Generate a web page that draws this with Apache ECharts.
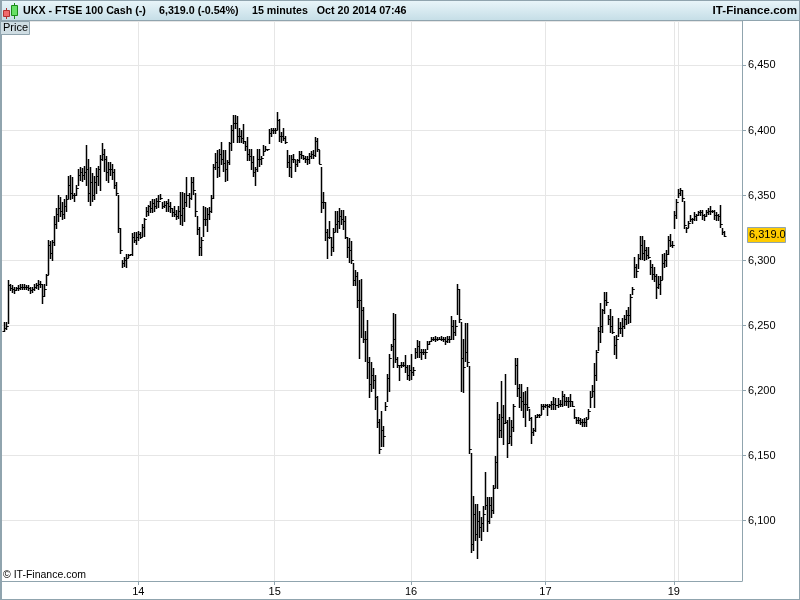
<!DOCTYPE html>
<html><head><meta charset="utf-8">
<style>html,body{margin:0;padding:0;background:#fff}#c{width:800px;height:600px}</style>
<script src="https://cdn.jsdelivr.net/npm/echarts@6/dist/echarts.min.js"></script>
</head><body><div id="c"></div>
<script>
const highs=[
6253,6253,6285,6282,6281,6280,6280,6281,6282,6282,
6282,6281,6281,6280,6280,6282,6283,6285,6284,6282,
6282,6290,6316,6315,6316,6334,6340,6350,6349,6345,
6347,6350,6365,6366,6364,6352,6358,6370,6372,6371,
6373,6389,6378,6372,6367,6365,6371,6373,6381,6390,
6386,6380,6376,6376,6374,6370,6360,6350,6325,6300,
6303,6305,6305,6305,6321,6322,6322,6323,6322,6328,
6333,6341,6343,6346,6347,6347,6348,6350,6351,6345,
6346,6346,6347,6345,6340,6342,6339,6342,6353,6353,
6352,6364,6352,6364,6364,6352,6334,6326,6318,6342,
6341,6340,6341,6350,6374,6383,6385,6386,6391,6385,
6385,6377,6391,6404,6412,6412,6411,6402,6400,6405,
6392,6395,6386,6386,6380,6372,6386,6386,6380,6389,
6388,6386,6401,6402,6402,6402,6414,6409,6399,6402,
6396,6385,6381,6381,6382,6377,6378,6384,6384,6381,
6380,6380,6383,6384,6385,6395,6394,6385,6372,6353,
6345,6324,6330,6318,6325,6338,6338,6340,6339,6339,
6334,6318,6317,6315,6298,6293,6291,6285,6286,6264,
6246,6254,6226,6222,6217,6212,6196,6178,6184,6173,
6191,6213,6228,6236,6260,6259,6226,6220,6222,6222,
6227,6220,6220,6228,6218,6233,6239,6238,6232,6232,
6232,6238,6238,6241,6241,6242,6241,6241,6242,6241,
6241,6242,6242,6257,6254,6254,6282,6278,6253,6240,
6252,6252,6219,6152,6119,6113,6113,6107,6103,6111,
6137,6118,6118,6118,6127,6150,6191,6182,6207,6189,
6213,6177,6180,6177,6190,6225,6225,6205,6205,6199,
6200,6203,6186,6180,6171,6181,6182,6182,6190,6190,
6190,6190,6190,6192,6195,6194,6194,6193,6200,6197,
6195,6195,6197,6192,6186,6180,6180,6179,6178,6179,
6180,6186,6200,6204,6221,6231,6249,6267,6263,6276,
6276,6258,6263,6257,6242,6243,6256,6253,6256,6258,
6262,6264,6274,6280,6303,6297,6305,6319,6319,6316,
6310,6310,6300,6297,6295,6290,6288,6288,6305,6306,
6308,6319,6320,6315,6338,6347,6355,6356,6354,6346,
6326,6330,6335,6333,6337,6336,6338,6339,6339,6336,
6339,6340,6342,6339,6339,6337,6336,6343,6325,6323];
const lows=[
6246,6247,6252,6277,6276,6275,6277,6277,6278,6278,
6278,6278,6277,6275,6276,6277,6279,6278,6280,6267,
6273,6281,6290,6302,6300,6312,6325,6330,6334,6332,
6333,6338,6348,6347,6348,6346,6350,6358,6362,6361,
6363,6358,6346,6343,6346,6347,6352,6358,6354,6377,
6369,6362,6360,6366,6363,6356,6350,6322,6306,6295,
6296,6295,6303,6304,6304,6314,6313,6316,6317,6319,
6319,6334,6335,6337,6337,6338,6340,6341,6347,6340,
6341,6338,6338,6337,6334,6334,6332,6333,6328,6327,
6330,6342,6341,6347,6351,6334,6320,6304,6304,6319,
6327,6323,6332,6337,6348,6370,6364,6365,6374,6369,
6361,6362,6374,6385,6391,6402,6391,6391,6391,6390,
6385,6377,6377,6370,6365,6358,6369,6373,6374,6381,
6385,6385,6390,6396,6398,6398,6401,6392,6391,6393,
6390,6372,6365,6364,6376,6369,6373,6376,6379,6378,
6376,6374,6375,6379,6379,6380,6384,6375,6337,6340,
6316,6302,6317,6304,6307,6323,6322,6325,6328,6324,
6317,6303,6299,6298,6281,6281,6264,6225,6241,6237,
6223,6210,6195,6200,6202,6186,6172,6152,6157,6157,
6185,6192,6200,6231,6218,6222,6218,6208,6218,6219,
6214,6209,6208,6209,6212,6225,6226,6226,6224,6228,
6225,6232,6236,6238,6239,6238,6239,6240,6239,6238,
6236,6237,6237,6240,6240,6243,6259,6253,6200,6199,
6223,6219,6152,6076,6077,6085,6071,6087,6085,6092,
6109,6092,6098,6103,6106,6126,6125,6164,6164,6159,
6175,6149,6160,6158,6169,6205,6196,6187,6185,6180,
6173,6185,6177,6160,6166,6169,6180,6180,6182,6186,
6187,6181,6187,6186,6186,6186,6187,6188,6188,6189,
6189,6187,6188,6188,6179,6175,6175,6174,6173,6173,
6173,6179,6187,6196,6187,6208,6231,6237,6245,6260,
6266,6251,6245,6244,6228,6225,6242,6244,6242,6248,
6251,6252,6253,6274,6287,6287,6294,6301,6301,6300,
6301,6302,6290,6286,6284,6271,6279,6274,6286,6295,
6296,6305,6311,6310,6325,6333,6349,6350,6346,6325,
6322,6326,6330,6329,6331,6331,6335,6335,6332,6331,
6334,6336,6336,6337,6332,6331,6331,6326,6320,6319];
const closes=[
6248,6250,6281,6279,6278,6277,6279,6279,6280,6280,
6280,6280,6279,6277,6278,6280,6281,6282,6282,6273,
6278,6289,6312,6306,6314,6328,6336,6340,6338,6336,
6342,6347,6358,6352,6350,6350,6356,6366,6368,6366,
6368,6370,6352,6360,6350,6360,6365,6370,6378,6382,
6378,6368,6370,6370,6368,6358,6352,6325,6308,6298,
6300,6302,6304,6305,6318,6316,6318,6320,6318,6326,
6332,6338,6342,6340,6344,6342,6346,6346,6348,6342,
6343,6344,6342,6340,6337,6336,6334,6338,6335,6340,
6345,6350,6348,6360,6354,6338,6324,6310,6316,6332,
6332,6336,6338,6348,6372,6376,6372,6382,6378,6375,
6370,6376,6390,6400,6406,6406,6396,6396,6394,6392,
6388,6382,6380,6376,6368,6370,6378,6378,6379,6384,
6386,6386,6398,6400,6400,6400,6408,6396,6396,6394,
6391,6376,6372,6378,6378,6374,6377,6382,6381,6379,
6378,6378,6380,6382,6381,6392,6386,6374,6345,6345,
6322,6318,6318,6310,6322,6328,6330,6334,6332,6330,
6318,6310,6308,6300,6285,6288,6270,6270,6262,6240,
6240,6222,6205,6212,6208,6195,6176,6155,6170,6165,
6188,6210,6225,6234,6240,6224,6220,6220,6220,6220,
6218,6212,6216,6214,6216,6230,6234,6230,6230,6230,
6230,6236,6238,6240,6240,6240,6240,6240,6240,6240,
6238,6240,6240,6250,6245,6250,6278,6255,6225,6218,
6230,6222,6155,6082,6105,6090,6100,6095,6098,6105,
6112,6100,6112,6108,6125,6145,6178,6170,6180,6175,
6176,6160,6165,6172,6188,6220,6202,6195,6192,6190,
6190,6187,6179,6168,6170,6180,6181,6181,6188,6188,
6189,6188,6189,6190,6190,6189,6190,6190,6196,6192,
6192,6192,6192,6188,6180,6177,6177,6176,6176,6176,
6178,6184,6195,6200,6212,6230,6246,6250,6262,6270,
6268,6255,6250,6245,6235,6240,6248,6248,6250,6255,
6258,6258,6272,6278,6295,6292,6302,6312,6306,6308,
6304,6303,6295,6290,6288,6280,6282,6285,6298,6300,
6305,6316,6312,6312,6335,6345,6352,6354,6348,6327,
6325,6329,6332,6332,6334,6335,6337,6337,6335,6334,
6337,6338,6338,6338,6335,6335,6334,6328,6322,6319];
const dayLabels={68:'14',136:'15',204:'16',271:'17',335:'19'};
const extraGridIndex=337;
const priceTicks=[6100,6150,6200,6250,6300,6350,6400,6450];
const lastPrice=6319;
const categories=Array.from({length:370},(_,i)=>String(i));
const rows=highs.map((h,i)=>[i+1,i?closes[i-1]:lows[0],h,lows[i],closes[i]]);

const frame='#90a4ae';
const font='"Liberation Sans",Arial,sans-serif';
const chart=echarts.init(document.getElementById('c'),null,{renderer:'canvas'});
const px=v=>Math.round(v)+0.5;
chart.setOption({
  animation:false,
  backgroundColor:'#fff',
  grid:{left:2,right:58,top:21,bottom:19,show:false},
  xAxis:{type:'category',data:categories,boundaryGap:false,
    axisLine:{show:true,lineStyle:{color:frame,width:1}},
    axisTick:{show:true,length:4,lineStyle:{color:frame},interval:i=>dayLabels[i]!==undefined},
    axisLabel:{show:true,color:'#000',fontFamily:font,fontSize:11,margin:5,hideOverlap:false,
      interval:i=>dayLabels[i]!==undefined,formatter:(v,i)=>dayLabels[i]||''},
    splitLine:{show:true,lineStyle:{color:'#e6e6e6',width:1},
      interval:i=>dayLabels[i]!==undefined||i===extraGridIndex}},
  yAxis:{type:'value',position:'right',min:6053.5,max:6484.2,splitNumber:8,
    axisLine:{show:true,onZero:false,lineStyle:{color:frame,width:1}},
    axisTick:{show:true,length:4,lineStyle:{color:frame}},
    axisLabel:{color:'#000',fontFamily:font,fontSize:11,margin:6,showMinLabel:false,showMaxLabel:false,
      formatter:v=>priceTicks.includes(v)?String(v).replace(/(\d)(\d{3})$/,'$1,$2'):''},
    splitLine:{show:true,lineStyle:{color:'#e6e6e6',width:1}}},
  series:[{type:'custom',data:rows,clip:true,silent:true,
    encode:{x:0,y:[1,2,3,4]},
    renderItem(params,api){
      const i=api.value(0);
      const x=px(api.coord([i,api.value(1)])[0]);
      const yo=px(api.coord([i,api.value(1)])[1]);
      const yh=px(api.coord([i,api.value(2)])[1]);
      const yl=px(api.coord([i,api.value(3)])[1]);
      const yc=px(api.coord([i,api.value(4)])[1]);
      const st={stroke:'#000',lineWidth:1,fill:null};
      return {type:'group',children:[
        {type:'line',shape:{x1:x,y1:yh-0.5,x2:x,y2:yl+0.5},style:{stroke:'#000',lineWidth:1.5,fill:null}},
        {type:'line',shape:{x1:x-2,y1:yo,x2:x,y2:yo},style:st},
        {type:'line',shape:{x1:x,y1:yc,x2:x+2,y2:yc},style:st}]};
    }}],
  graphic:[
    {type:'rect',z:50,shape:{x:0,y:0,width:800,height:21},
      style:{fill:{type:'linear',x:0,y:0,x2:0,y2:1,colorStops:[{offset:0,color:'#eaf6fa'},{offset:1,color:'#c4dde6'}]}}},
    {type:'line',z:51,shape:{x1:0,y1:0.5,x2:800,y2:0.5},style:{stroke:frame}},
    {type:'line',z:51,shape:{x1:0,y1:20.5,x2:800,y2:20.5},style:{stroke:frame}},
    {type:'rect',z:51,shape:{x:0,y:0,width:2,height:600},style:{fill:frame}},
    {type:'line',z:51,shape:{x1:799.5,y1:0,x2:799.5,y2:600},style:{stroke:frame}},
    {type:'line',z:51,shape:{x1:0,y1:599.5,x2:800,y2:599.5},style:{stroke:frame}},
    {type:'line',z:52,shape:{x1:6.5,y1:8,x2:6.5,y2:19},style:{stroke:'#b03030'}},
    {type:'rect',z:52,shape:{x:3.5,y:10.5,width:6,height:6},style:{fill:'#f06a6c',stroke:'#b03030'}},
    {type:'line',z:52,shape:{x1:14.5,y1:3,x2:14.5,y2:19},style:{stroke:'#1a8a1a'}},
    {type:'rect',z:52,shape:{x:11.5,y:5.5,width:6,height:10},style:{fill:'#66e066',stroke:'#1a8a1a'}},
    {type:'text',z:53,x:23,y:11,style:{text:'UKX - FTSE 100 Cash (-)',font:'bold 10.7px '+font,fill:'#000',textVerticalAlign:'middle'}},
    {type:'text',z:53,x:159,y:11,style:{text:'6,319.0 (-0.54%)',font:'bold 10.7px '+font,fill:'#000',textVerticalAlign:'middle'}},
    {type:'text',z:53,x:252,y:11,style:{text:'15 minutes   Oct 20 2014 07:46',font:'bold 10.7px '+font,fill:'#000',textVerticalAlign:'middle'}},
    {type:'text',z:53,x:797,y:11,style:{text:'IT-Finance.com',font:'bold 11.6px '+font,fill:'#000',textAlign:'right',textVerticalAlign:'middle'}},
    {type:'rect',z:52,shape:{x:0.5,y:21.5,width:29,height:13},style:{fill:'#cfdde3',stroke:frame}},
    {type:'text',z:53,x:3,y:28,style:{text:'Price',font:'11px '+font,fill:'#000',textVerticalAlign:'middle'}},
    {type:'text',z:53,x:3,y:575,style:{text:'\u00a9 IT-Finance.com',font:'10.5px '+font,fill:'#000',textVerticalAlign:'middle'}}
  ]
});
const ly=Math.round(chart.convertToPixel({yAxisIndex:0},lastPrice));
chart.setOption({graphic:[
  {id:'lastBox',type:'rect',z:52,shape:{x:747.5,y:ly-8.5,width:38,height:15},style:{fill:'#ffcc00',stroke:frame}},
  {id:'lastText',type:'text',z:53,x:749,y:ly-1,style:{text:'6,319.0',font:'11px '+font,fill:'#000',textVerticalAlign:'middle'}}
]});
</script></body></html>
